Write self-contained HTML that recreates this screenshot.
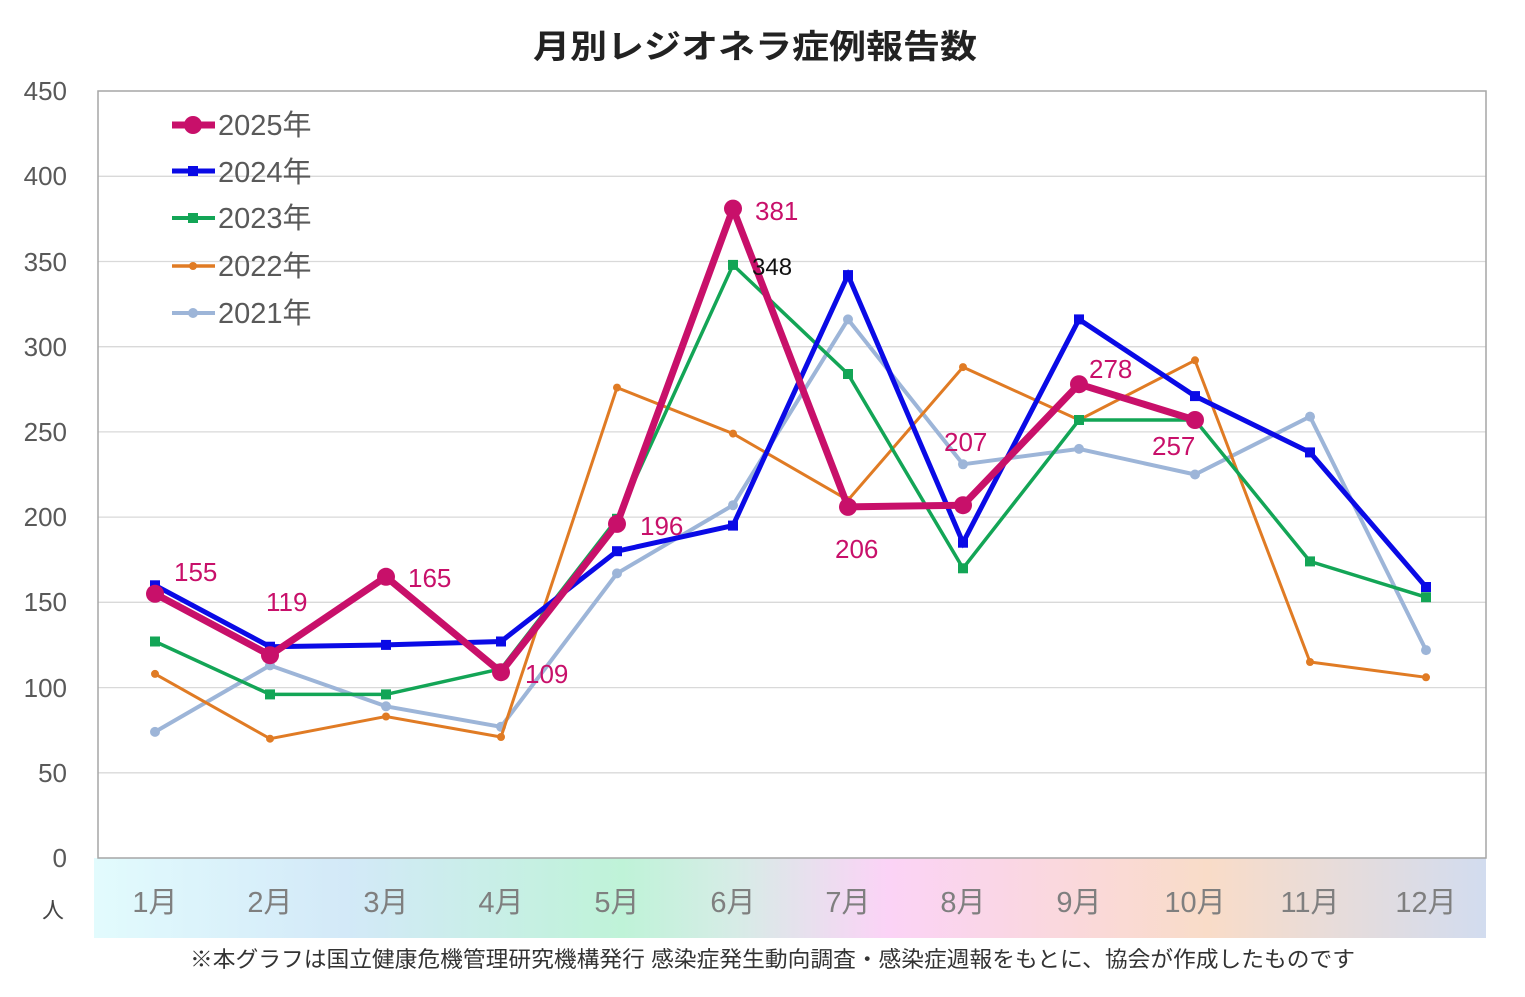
<!DOCTYPE html>
<html><head><meta charset="utf-8"><style>
body{margin:0;background:#fff;width:1525px;height:992px;overflow:hidden}
svg{font-family:"Liberation Sans","Noto Sans CJK JP",sans-serif}
</style></head><body>
<svg width="1525" height="992" viewBox="0 0 1525 992" xmlns="http://www.w3.org/2000/svg">
<defs>
<linearGradient id="band" x1="0" x2="1" y1="0" y2="0">
<stop offset="0" stop-color="#e2fbfd"/>
<stop offset="0.18" stop-color="#d3e9f8"/>
<stop offset="0.38" stop-color="#bff3d8"/>
<stop offset="0.46" stop-color="#d6ece6"/>
<stop offset="0.57" stop-color="#fbd3f6"/>
<stop offset="0.8" stop-color="#f9dcc8"/>
<stop offset="1" stop-color="#d2dcef"/>
</linearGradient>
</defs>
<rect width="1525" height="992" fill="#fff"/>
<text x="533" y="58" textLength="444" lengthAdjust="spacingAndGlyphs" font-size="33" font-weight="bold" fill="#222">月別レジオネラ症例報告数</text>
<rect x="94" y="858" width="1392" height="80" fill="url(#band)"/>
<g stroke="#d9d9d9" stroke-width="1.3">
<line x1="98" x2="1486" y1="772.8" y2="772.8"/><line x1="98" x2="1486" y1="687.6" y2="687.6"/>
<line x1="98" x2="1486" y1="602.3" y2="602.3"/><line x1="98" x2="1486" y1="517.1" y2="517.1"/>
<line x1="98" x2="1486" y1="431.9" y2="431.9"/><line x1="98" x2="1486" y1="346.7" y2="346.7"/>
<line x1="98" x2="1486" y1="261.5" y2="261.5"/><line x1="98" x2="1486" y1="176.3" y2="176.3"/>
</g>
<rect x="98" y="91" width="1388" height="767" fill="none" stroke="#a6a6a6" stroke-width="1.5"/>
<g font-size="26" fill="#595959" text-anchor="end">
<text x="67" y="867">0</text><text x="67" y="782">50</text><text x="67" y="697">100</text>
<text x="67" y="611">150</text><text x="67" y="526">200</text><text x="67" y="441">250</text>
<text x="67" y="356">300</text><text x="67" y="271">350</text><text x="67" y="185">400</text>
<text x="67" y="100">450</text>
</g>
<text x="53" y="918" font-size="22" fill="#444" text-anchor="middle">人</text>
<g font-size="29" fill="#7f7f7f" text-anchor="middle">
<text x="155" y="912">1月</text><text x="270" y="912">2月</text><text x="386" y="912">3月</text>
<text x="501" y="912">4月</text><text x="617" y="912">5月</text><text x="733" y="912">6月</text>
<text x="848" y="912">7月</text><text x="963" y="912">8月</text><text x="1079" y="912">9月</text>
<text x="1195" y="912">10月</text><text x="1310" y="912">11月</text><text x="1426" y="912">12月</text>
</g>
<text x="190" y="967" textLength="1165" lengthAdjust="spacingAndGlyphs" font-size="22" fill="#333">※本グラフは国立健康危機管理研究機構発行 感染症発生動向調査・感染症週報をもとに、協会が作成したものです</text>

<!-- 2021 -->
<polyline fill="none" stroke="#9db5d8" stroke-width="4" points="155,731.9 270,665.4 386,706.3 501,726.8 617,573.4 733,505.2 848,319.4 963,464.3 1079,448.9 1195,474.5 1310,416.6 1426,650.1"/>
<g fill="#9db5d8"><circle cx="155" cy="731.9" r="5"/><circle cx="270" cy="665.4" r="5"/><circle cx="386" cy="706.3" r="5"/><circle cx="501" cy="726.8" r="5"/><circle cx="617" cy="573.4" r="5"/><circle cx="733" cy="505.2" r="5"/><circle cx="848" cy="319.4" r="5"/><circle cx="963" cy="464.3" r="5"/><circle cx="1079" cy="448.9" r="5"/><circle cx="1195" cy="474.5" r="5"/><circle cx="1310" cy="416.6" r="5"/><circle cx="1426" cy="650.1" r="5"/></g>
<!-- 2022 -->
<polyline fill="none" stroke="#e07b24" stroke-width="3" points="155,673.9 270,738.7 386,716.5 501,737 617,387.6 733,433.6 848,500.1 963,367.1 1079,420 1195,360.3 1310,662 1426,677.3"/>
<g fill="#e07b24"><circle cx="155" cy="673.9" r="4"/><circle cx="270" cy="738.7" r="4"/><circle cx="386" cy="716.5" r="4"/><circle cx="501" cy="737" r="4"/><circle cx="617" cy="387.6" r="4"/><circle cx="733" cy="433.6" r="4"/><circle cx="848" cy="500.1" r="4"/><circle cx="963" cy="367.1" r="4"/><circle cx="1079" cy="420" r="4"/><circle cx="1195" cy="360.3" r="4"/><circle cx="1310" cy="662" r="4"/><circle cx="1426" cy="677.3" r="4"/></g>
<!-- 2023 -->
<polyline fill="none" stroke="#13a556" stroke-width="3.5" points="155,641.5 270,694.4 386,694.4 501,668.8 617,518.8 733,264.9 848,374 963,568.3 1079,420 1195,420 1310,561.4 1426,597.2"/>
<g fill="#13a556"><rect x="150" y="636.5" width="10" height="10"/><rect x="265" y="689.4" width="10" height="10"/><rect x="381" y="689.4" width="10" height="10"/><rect x="496" y="663.8" width="10" height="10"/><rect x="612" y="513.8" width="10" height="10"/><rect x="728" y="259.9" width="10" height="10"/><rect x="843" y="369" width="10" height="10"/><rect x="958" y="563.3" width="10" height="10"/><rect x="1074" y="415" width="10" height="10"/><rect x="1190" y="415" width="10" height="10"/><rect x="1305" y="556.4" width="10" height="10"/><rect x="1421" y="592.2" width="10" height="10"/></g>
<!-- 2024 -->
<polyline fill="none" stroke="#0a0ae6" stroke-width="5" points="155,585.3 270,646.7 386,644.9 501,641.5 617,551.2 733,525.6 848,275.1 963,542.7 1079,319.4 1195,396.1 1310,452.4 1426,587"/>
<g fill="#0a0ae6"><rect x="150" y="580.3" width="10" height="10"/><rect x="265" y="641.7" width="10" height="10"/><rect x="381" y="639.9" width="10" height="10"/><rect x="496" y="636.5" width="10" height="10"/><rect x="612" y="546.2" width="10" height="10"/><rect x="728" y="520.6" width="10" height="10"/><rect x="843" y="270.1" width="10" height="10"/><rect x="958" y="537.7" width="10" height="10"/><rect x="1074" y="314.4" width="10" height="10"/><rect x="1190" y="391.1" width="10" height="10"/><rect x="1305" y="447.4" width="10" height="10"/><rect x="1421" y="582" width="10" height="10"/></g>
<!-- 2025 -->
<polyline fill="none" stroke="#c8106a" stroke-width="7" stroke-linejoin="round" points="155,593.8 270,655.2 386,576.8 501,672.2 617,523.9 733,208.6 848,506.9 963,505.2 1079,384.2 1195,420"/>
<g fill="#c8106a"><circle cx="155" cy="593.8" r="9"/><circle cx="270" cy="655.2" r="9"/><circle cx="386" cy="576.8" r="9"/><circle cx="501" cy="672.2" r="9"/><circle cx="617" cy="523.9" r="9"/><circle cx="733" cy="208.6" r="9"/><circle cx="848" cy="506.9" r="9"/><circle cx="963" cy="505.2" r="9"/><circle cx="1079" cy="384.2" r="9"/><circle cx="1195" cy="420" r="9"/></g>
<g font-size="26" fill="#c8106a">
<text x="174" y="581">155</text><text x="266" y="611">119</text><text x="408" y="587">165</text>
<text x="525" y="683">109</text><text x="640" y="535">196</text><text x="755" y="220">381</text>
<text x="835" y="558">206</text><text x="944" y="451">207</text><text x="1089" y="378">278</text>
<text x="1152" y="455">257</text>
</g>
<text x="752" y="275" font-size="24" fill="#111">348</text>
<!-- legend -->
<g font-size="29" fill="#595959">
<line x1="172" x2="215" y1="125" y2="125" stroke="#c8106a" stroke-width="7"/><circle cx="193" cy="125" r="9" fill="#c8106a"/>
<text x="218" y="135">2025年</text>
<line x1="172" x2="215" y1="171" y2="171" stroke="#0a0ae6" stroke-width="5"/><rect x="188" y="166" width="10" height="10" fill="#0a0ae6"/>
<text x="218" y="182">2024年</text>
<line x1="172" x2="215" y1="218" y2="218" stroke="#13a556" stroke-width="4"/><rect x="188" y="213" width="10" height="10" fill="#13a556"/>
<text x="218" y="228">2023年</text>
<line x1="172" x2="215" y1="266" y2="266" stroke="#e07b24" stroke-width="3.5"/><circle cx="193" cy="266" r="4" fill="#e07b24"/>
<text x="218" y="276">2022年</text>
<line x1="172" x2="215" y1="313" y2="313" stroke="#9db5d8" stroke-width="4"/><circle cx="193" cy="313" r="5" fill="#9db5d8"/>
<text x="218" y="323">2021年</text>
</g>
</svg>
</body></html>
